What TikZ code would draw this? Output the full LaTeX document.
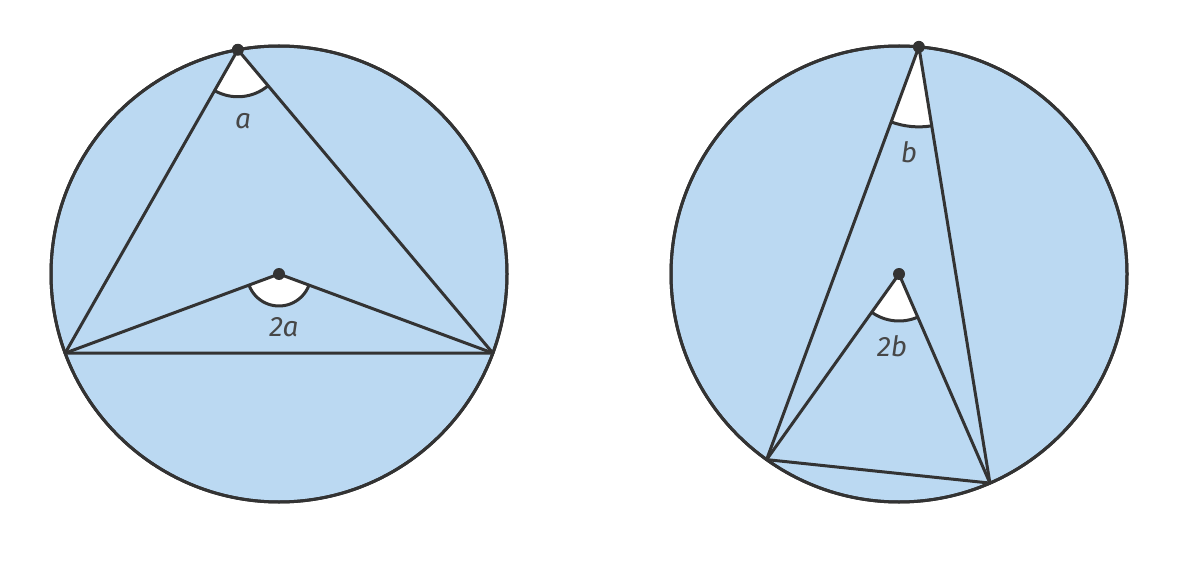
\documentclass[tikz,border=0pt]{standalone}
\usepackage{fontspec}
\setmainfont{Fira Sans}
\usetikzlibrary{angles,calc}
\definecolor{fillblue}{HTML}{BBD9F2}
\definecolor{ink}{HTML}{333333}
\begin{document}
\begin{tikzpicture}[x=0.5pt,y=0.5pt,
  edge/.style={draw=ink,line width=1.5pt,line join=round,line cap=round},
  disc/.style={fill=fillblue,draw=ink,line width=1.5pt},
  dotnode/.style={circle,fill=ink,inner sep=0pt,minimum size=6pt},
  anglemark/.style={draw=ink,fill=white,line width=1.5pt},
  lbl/.style={text=ink!90,font=\fontsize{14}{16}\selectfont\itshape}]
\useasboundingbox (0,0) rectangle (1193,563);
% ---------- left circle ----------
\coordinate (C1) at (279,289);
\path[disc] (C1) circle (228);
\coordinate (T1) at ($(C1)+(100.4:228)$);
\coordinate (L1) at ($(C1)+(200.3:228)$);
\coordinate (R1) at ($(C1)+(339.7:228)$);
\pic[anglemark,angle radius=23.5pt]{angle=L1--T1--R1};
\pic[anglemark,angle radius=16pt]{angle=L1--C1--R1};
\draw[edge] (T1) -- (L1) -- (R1) -- cycle;
\draw[edge] (L1) -- (C1) -- (R1);
\draw[draw=ink,line width=1.5pt] (C1) circle (228);
\node[dotnode] (dT1) at (T1) {};
\node[dotnode] (dC1) at (C1) {};
\node[lbl] (la) at (243,442) {a};
\node[lbl] (l2a) at (284,236) {2a};
% ---------- right circle ----------
\coordinate (C2) at (899,289);
\path[disc] (C2) circle (228);
\coordinate (T2) at ($(C2)+(85:228)$);
\coordinate (L2) at ($(C2)+(234.5:228)$);
\coordinate (R2) at ($(C2)+(293.5:228)$);
\pic[anglemark,angle radius=40pt]{angle=L2--T2--R2};
\pic[anglemark,angle radius=23.5pt]{angle=L2--C2--R2};
\draw[edge] (T2) -- (L2) -- (R2) -- cycle;
\draw[edge] (L2) -- (C2) -- (R2);
\draw[draw=ink,line width=1.5pt] (C2) circle (228);
\node[dotnode] (dT2) at (T2) {};
\node[dotnode] (dC2) at (C2) {};
\node[lbl] (lb) at (909,411) {b};
\node[lbl] (l2b) at (892,217) {2b};
\end{tikzpicture}
\end{document}
